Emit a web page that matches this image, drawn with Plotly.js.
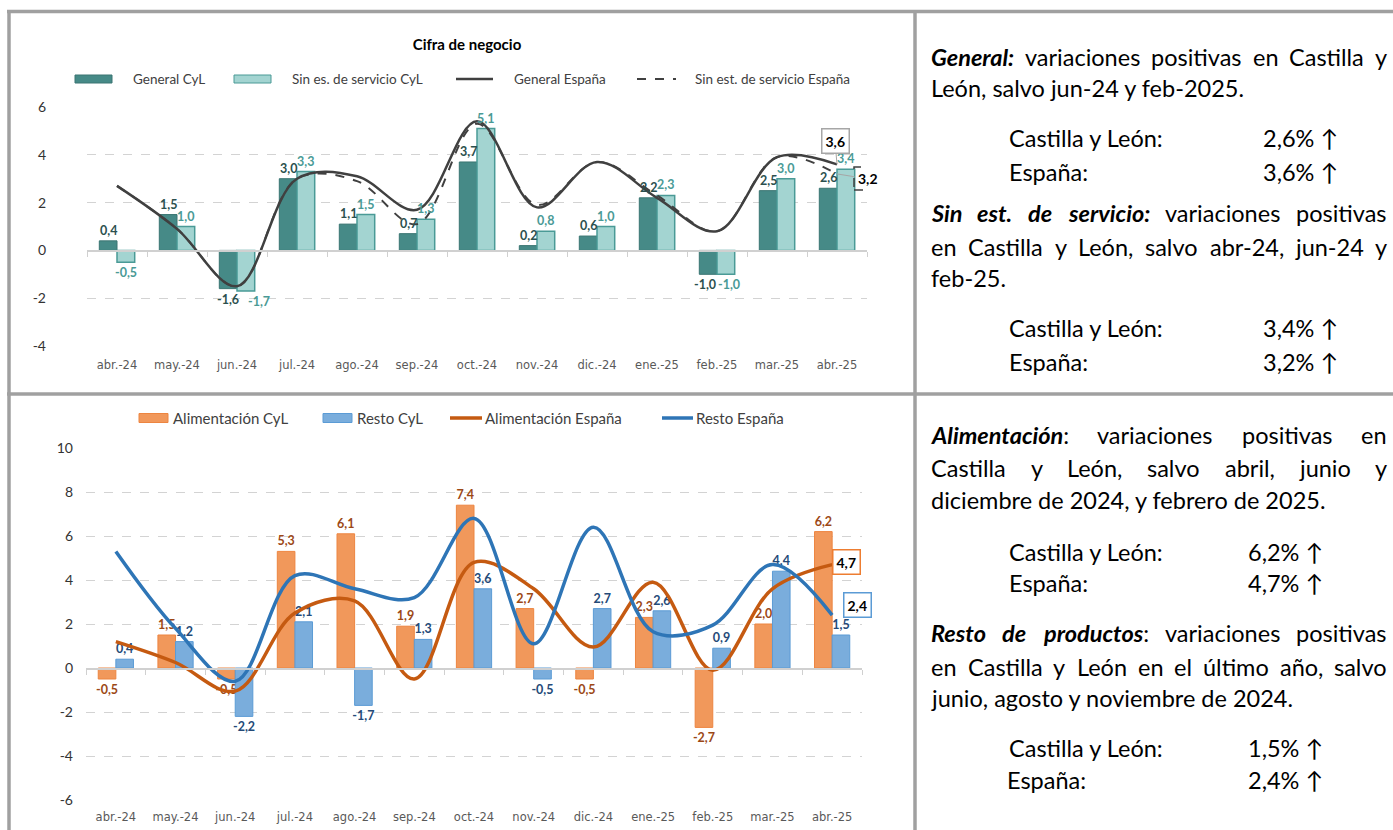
<!DOCTYPE html>
<html><head><meta charset="utf-8">
<script src="https://cdn.plot.ly/plotly-3.0.1.min.js"></script>
<style>html,body{margin:0;padding:0;background:#fff}#chart{width:1393px;height:830px}</style>
</head><body><div id="chart"></div>
<script>
// ---------- data ----------
const categories = ['abr.-24','may.-24','jun.-24','jul.-24','ago.-24','sep.-24','oct.-24','nov.-24','dic.-24','ene.-25','feb.-25','mar.-25','abr.-25'];
const generalCyL   = [0.4, 1.5, -1.6, 3.0, 1.1, 0.7, 3.7, 0.2, 0.6, 2.2, -1.0, 2.5, 2.6];
const sinServCyL   = [-0.5, 1.0, -1.7, 3.3, 1.5, 1.3, 5.1, 0.8, 1.0, 2.3, -1.0, 3.0, 3.4];
const generalEsp   = [2.7, 0.9, -1.5, 3.0, 3.1, 1.7, 5.4, 1.8, 3.7, 2.2, 0.8, 3.9, 3.6];
const sinServEsp   = [2.7, 0.9, -1.5, 3.0, 2.9, 1.1, 5.3, 1.9, 3.7, 2.3, 0.8, 3.9, 3.2];
const alimCyL      = [-0.5, 1.5, -0.5, 5.3, 6.1, 1.9, 7.4, 2.7, -0.5, 2.3, -2.7, 2.0, 6.2];
const restoCyL     = [0.4, 1.2, -2.2, 2.1, -1.7, 1.3, 3.6, -0.5, 2.7, 2.6, 0.9, 4.4, 1.5];
const alimEsp      = [1.2, 0.25, -1.05, 2.5, 3.05, -0.5, 4.8, 3.6, 0.95, 3.9, -0.1, 3.6, 4.7];
const restoEsp     = [5.3, 1.8, -0.6, 4.2, 3.6, 3.2, 6.8, 1.1, 6.4, 1.65, 1.95, 4.7, 2.4];
const seriesNames  = ['General CyL','Sin es. de servicio CyL','General España','Sin est. de servicio España',
                      'Alimentación CyL','Resto CyL','Alimentación España','Resto España'];
const chartTitle = 'Cifra de negocio';

// ---------- helpers ----------
const W = 1393, H = 830;
const px = x => x / W, py = y => 1 - y / H;
const fmt = v => v.toFixed(1).replace('.', ',');
const last = categories.length - 1;
const boundaries = categories.map((c, i) => i - 0.5).concat([last + 0.5]);

const FT = 'Lato, "Open Sans", sans-serif';
const FX = '"DejaVu Sans", Lato, sans-serif';

const C = {
  gen:'#468a87', genL:'#3a7572', sin:'#a3d4d1', sinL:'#4a9a96', esp:'#404040',
  ali:'#f1985b', aliL:'#ed8540', res:'#7aaddc', resL:'#5b9bd5', aliE:'#c55a11', resE:'#2e75b6'
};

const topX = [px(87), px(867)], topY = [py(346), py(107)], topR = [-4, 6];
const botX = [px(86), px(862)], botY = [py(800), py(448)], botR = [-6, 10];
const zeroPos = (dom, r) => dom[0] + (0 - r[0]) / (r[1] - r[0]) * (dom[1] - dom[0]);
const BARGAP = 0.41;

const lbl = color => ({family: FT, size: 12.5, color: color, weight: 700});
const barText = (vals, color) => ({text: vals.map(fmt), textposition:'outside', textfont: lbl(color),
  cliponaxis:false, constraintext:'none', showlegend:false});

const traces = [
  {type:'bar', x:categories, y:generalCyL, name:seriesNames[0], xaxis:'x', yaxis:'y', showlegend:false,
   marker:{color:C.gen, line:{color:C.genL, width:1}}},
  {type:'bar', x:categories, y:sinServCyL, name:seriesNames[1], xaxis:'x', yaxis:'y', showlegend:false,
   marker:{color:C.sin, line:{color:C.sinL, width:1.5}}},
  {type:'scatter', mode:'lines', x:categories, y:generalEsp, name:seriesNames[2], xaxis:'x', yaxis:'y', showlegend:false,
   line:{color:C.esp, width:2.5, shape:'spline', smoothing:1}},
  {type:'scatter', mode:'lines', x:categories, y:sinServEsp, name:seriesNames[3], xaxis:'x', yaxis:'y', showlegend:false,
   line:{color:C.esp, width:2, dash:'dash', shape:'spline', smoothing:1}},
  Object.assign({type:'bar', x:categories, y:alimCyL, name:seriesNames[4], xaxis:'x2', yaxis:'y2',
   marker:{color:C.ali, line:{color:C.aliL, width:1}}}, barText(alimCyL, '#9c4816')),
  Object.assign({type:'bar', x:categories, y:restoCyL, name:seriesNames[5], xaxis:'x2', yaxis:'y2',
   marker:{color:C.res, line:{color:C.resL, width:1}}}, barText(restoCyL, '#254a78')),
  {type:'scatter', mode:'lines', x:categories, y:alimEsp, name:seriesNames[6], xaxis:'x2', yaxis:'y2', showlegend:false,
   line:{color:C.aliE, width:3.5, shape:'spline', smoothing:1}},
  {type:'scatter', mode:'lines', x:categories, y:restoEsp, name:seriesNames[7], xaxis:'x2', yaxis:'y2', showlegend:false,
   line:{color:C.resE, width:3.5, shape:'spline', smoothing:1}},
  // carriers for the zero-line axes
  {type:'scatter', x:[], y:[], xaxis:'x3', yaxis:'y', showlegend:false, hoverinfo:'skip'},
  {type:'scatter', x:[], y:[], xaxis:'x4', yaxis:'y2', showlegend:false, hoverinfo:'skip'}
];

const catAxis = (dom, anchor, standoff) => ({
  domain: dom, anchor: anchor, type:'category', categoryorder:'array', categoryarray:categories,
  range:[-0.5, last + 0.5], showgrid:false, showline:false, zeroline:false, ticks:'',
  tickfont:{family:FX, size:11.5, color:'#595959'}, ticklabelstandoff: standoff, fixedrange:true
});
const steps = r => { const a = []; for (let v = r[0]; v <= r[1]; v += 2) a.push(v); return a; };
const valAxis = (dom, anchor, r, font, standoff) => ({
  domain: dom, anchor: anchor, range: r, tickmode:'array', tickvals: steps(r), ticktext: steps(r).map(String),
  showgrid:true, gridcolor:'#d3d3d3', griddash:'dash', gridwidth:1, zeroline:false, showline:false, ticks:'',
  tickfont: font, ticklabelstandoff: standoff, fixedrange:true
});
const zeroAxis = (over, dom, ydom, r) => ({
  overlaying: over, anchor:'free', position: zeroPos(ydom, r), domain: dom,
  range:[-0.5, last + 0.5], tickmode:'array', tickvals: boundaries, ticks:'outside', ticklen:5,
  tickcolor:'#d0d0d0', tickwidth:1, showline:true, linecolor:'#d0d0d0', linewidth:1.5,
  showticklabels:false, showgrid:false, zeroline:false, fixedrange:true
});

const annotations = [];
const shapes = [];

// ---------- data labels of the top bars (anchored on the bar values) ----------
const catPx = (topX[1] - topX[0]) * W / categories.length;
const barOff = catPx * (1 - BARGAP) / 4;            // half of one bar's width
const topLabelNudge = {2: [0, 13], 10: [-3, 3]};     // px, to keep neighbouring labels apart
function topLabels(vals, side, color) {
  vals.forEach((v, i) => {
    const n = topLabelNudge[i] ? topLabelNudge[i][side < 0 ? 0 : 1] : 0;
    annotations.push({xref:'x', yref:'y', x:categories[i], y:v, text:fmt(v), showarrow:false,
      xanchor:'center', yanchor: v >= 0 ? 'bottom' : 'top', xshift: side * barOff + n, yshift: v >= 0 ? 1 : -1,
      font:lbl(color)});
  });
}
topLabels(generalCyL, -1, '#2b504e');
topLabels(sinServCyL, 1, '#4a9a96');

// ---------- legends (drawn as keys) ----------
const keyTop = [
  {kind:'box', x0:75,  x1:112, fill:C.gen, line:C.genL, tx:131, name:seriesNames[0]},
  {kind:'box', x0:234, x1:271, fill:C.sin, line:C.sinL, tx:290, name:seriesNames[1]},
  {kind:'line', x0:456, x1:493, color:C.esp, width:2.5, dash:'solid', tx:512, name:seriesNames[2]},
  {kind:'line', x0:637, x1:676, color:C.esp, width:2, dash:'dash', tx:693, name:seriesNames[3]}
];
const keyBot = [
  {kind:'box', x0:139, x1:168, fill:C.ali, line:C.aliL, tx:171, name:seriesNames[4]},
  {kind:'box', x0:323, x1:352, fill:C.res, line:C.resL, tx:355, name:seriesNames[5]},
  {kind:'line', x0:450, x1:482, color:C.aliE, width:3.5, dash:'solid', tx:483, name:seriesNames[6]},
  {kind:'line', x0:662, x1:693, color:C.resE, width:3.5, dash:'solid', tx:694, name:seriesNames[7]}
];
function addKeys(keys, yc, h, fsize) {
  keys.forEach(k => {
    if (k.kind === 'box') {
      shapes.push({type:'rect', xref:'paper', yref:'paper', x0:px(k.x0), x1:px(k.x1), y0:py(yc + h/2), y1:py(yc - h/2),
        fillcolor:k.fill, line:{color:k.line, width:1}});
    } else {
      shapes.push({type:'line', xref:'paper', yref:'paper', x0:px(k.x0), x1:px(k.x1), y0:py(yc), y1:py(yc),
        line:{color:k.color, width:k.width, dash:k.dash}});
    }
    annotations.push({xref:'paper', yref:'paper', x:px(k.tx), y:py(yc), xanchor:'left', yanchor:'middle',
      text:k.name, showarrow:false, font:{family:FT, size:fsize, color:'#404040'}});
  });
}
addKeys(keyTop, 79, 8, 13.5);
addKeys(keyBot, 418, 9, 15);

// ---------- right panel text ----------
const PSIZE = 23.5;
const PF = {family: FT, size: PSIZE, color:'#000'};
const LEFT = 929, RIGHT = 1385;
const para = [
  {y:57,  j:true,  words:['*General:*','variaciones','positivas','en','Castilla','y']},
  {y:88,  j:false, words:['León, salvo jun-24 y feb-2025.']},
  {y:213, j:true,  words:['*Sin*','*est.*','*de*','*servicio:*','variaciones','positivas']},
  {y:247, j:true,  words:['en','Castilla','y','León,','salvo','abr-24,','jun-24','y']},
  {y:278, j:false, words:['feb-25.']},
  {y:435, j:true,  words:['*Alimentación*:','variaciones','positivas','en']},
  {y:468, j:true,  words:['Castilla','y','León,','salvo','abril,','junio','y']},
  {y:500, j:false, words:['diciembre de 2024, y febrero de 2025.']},
  {y:633, j:true,  words:['*Resto*','*de*','*productos*:','variaciones','positivas']},
  {y:667, j:true,  words:['en','Castilla','y','León','en','el','último','año,','salvo']},
  {y:698, j:false, words:['junio, agosto y noviembre de 2024.']}
];
const rows = [
  {y:138, lx:1007, label:'Castilla y León:', v:generalCyL[last], rx:1340},
  {y:172, lx:1007, label:'España:',          v:generalEsp[last], rx:1340},
  {y:328, lx:1007, label:'Castilla y León:', v:sinServCyL[last], rx:1340},
  {y:362, lx:1007, label:'España:',          v:sinServEsp[last], rx:1340},
  {y:552, lx:1007, label:'Castilla y León:', v:alimCyL[last],    rx:1325},
  {y:583, lx:1007, label:'España:',          v:alimEsp[last],    rx:1325},
  {y:748, lx:1007, label:'Castilla y León:', v:restoCyL[last],   rx:1325},
  {y:780, lx:1005, label:'España:',          v:restoEsp[last],   rx:1325}
];
const ctx = document.createElement('canvas').getContext('2d');
function parseWord(w) {
  const m = w.match(/^\*(.*?)\*(.*)$/);
  return m ? {b:m[1], r:m[2]} : {b:'', r:w};
}
function wordWidth(p) {
  let w = 0;
  if (p.b) { ctx.font = 'italic 700 ' + PSIZE + 'px Lato'; w += ctx.measureText(p.b).width; }
  if (p.r) { ctx.font = '400 ' + PSIZE + 'px Lato'; w += ctx.measureText(p.r).width; }
  return w;
}
const wordHtml = p => (p.b ? '<b><i>' + p.b + '</i></b>' : '') + p.r;
para.forEach(l => {
  const parts = l.words.map(parseWord);
  let xs = [LEFT];
  if (l.j && parts.length > 1) {
    const widths = parts.map(wordWidth);
    const gap = (RIGHT - LEFT - widths.reduce((a, b) => a + b, 0)) / (parts.length - 1);
    xs = []; let x = LEFT;
    parts.forEach((p, i) => { xs.push(x); x += widths[i] + gap; });
  }
  parts.forEach((p, i) => annotations.push({xref:'paper', yref:'paper', x:px(xs[i]), y:py(l.y),
    xanchor:'left', yanchor:'middle', text:wordHtml(p), showarrow:false, font:PF}));
});
rows.forEach(r => {
  annotations.push({xref:'paper', yref:'paper', x:px(r.lx), y:py(r.y), xanchor:'left', yanchor:'middle',
    text:r.label, showarrow:false, font:PF});
  annotations.push({xref:'paper', yref:'paper', x:px(r.rx), y:py(r.y), xanchor:'right', yanchor:'middle',
    text:fmt(r.v) + '% ↑', showarrow:false, font:PF});
});

// ---------- end-point labels of the España lines ----------
const boxFont = {family: FT, size: 14, color:'#000', weight:700};
annotations.push({xref:'x', yref:'y', x:categories[last], y:generalEsp[last], text:fmt(generalEsp[last]),
  showarrow:true, arrowhead:0, arrowwidth:1, arrowcolor:'#a6a6a6', ax:-2, ay:-23, standoff:0,
  bordercolor:'#a6a6a6', borderwidth:1.5, borderpad:3, bgcolor:'#fff', font:boxFont});
annotations.push({xref:'x', yref:'y', x:categories[last], y:sinServEsp[last], text:fmt(sinServEsp[last]),
  showarrow:true, arrowhead:0, arrowwidth:1, arrowcolor:'#a6a6a6', ax:31, ay:5, standoff:0,
  borderpad:3, bgcolor:'rgba(255,255,255,0)', font:boxFont});
annotations.push({xref:'x2', yref:'y2', x:categories[last], y:alimEsp[last], text:fmt(alimEsp[last]),
  showarrow:false, xshift:14, yshift:3, bordercolor:'#ed7d31', borderwidth:1.5, borderpad:3, font:boxFont});
annotations.push({xref:'x2', yref:'y2', x:categories[last], y:restoEsp[last], text:fmt(restoEsp[last]),
  showarrow:false, xshift:25, yshift:10, bordercolor:'#5b9bd5', borderwidth:1.5, borderpad:3, font:boxFont});

// ---------- frame ----------
const G = '#a0a0a0';
shapes.push(
  {type:'line', xref:'paper', yref:'paper', x0:px(7),   x1:px(1393), y0:py(11.5), y1:py(11.5), line:{color:G, width:3.5}},
  {type:'line', xref:'paper', yref:'paper', x0:px(9),   x1:px(9),    y0:py(10),   y1:py(830),  line:{color:G, width:3.5}},
  {type:'line', xref:'paper', yref:'paper', x0:px(915), x1:px(915),  y0:py(10),   y1:py(830),  line:{color:G, width:3.5}},
  {type:'line', xref:'paper', yref:'paper', x0:px(7),   x1:px(1393), y0:py(394),  y1:py(394),  line:{color:G, width:3.5}},
  {type:'rect', xref:'x', yref:'y', xsizemode:'pixel', ysizemode:'pixel',
   xanchor:last, yanchor:sinServEsp[last], x0:17, x1:45, y0:-16, y1:7,
   line:{color:'#404040', width:1.5, dash:'dash'}}
);

const layout = {
  width:W, height:H, margin:{l:0, r:0, t:0, b:0}, paper_bgcolor:'#fff', plot_bgcolor:'rgba(0,0,0,0)',
  separators:',.', barmode:'group', bargap:BARGAP, bargroupgap:0, showlegend:false,
  font:{family:FT, color:'#404040'},
  title:{text:'<b>' + chartTitle + '</b>', x:px(467), xanchor:'center', y:py(45), yanchor:'middle', xref:'paper', yref:'paper',
         font:{family:FT, size:15, color:'#000'}},
  xaxis: catAxis(topX, 'y', 10),
  yaxis: valAxis(topY, 'x', topR, {family:FT, size:14, color:'#333'}, 40),
  xaxis2: catAxis(botX, 'y2', 8),
  yaxis2: valAxis(botY, 'x2', botR, {family:FT, size:14, color:'#333'}, 12),
  xaxis3: zeroAxis('x', topX, topY, topR),
  xaxis4: zeroAxis('x2', botX, botY, botR),
  annotations: annotations,
  shapes: shapes
};

Plotly.newPlot('chart', traces, layout, {staticPlot:true, displayModeBar:false});
</script></body></html>
